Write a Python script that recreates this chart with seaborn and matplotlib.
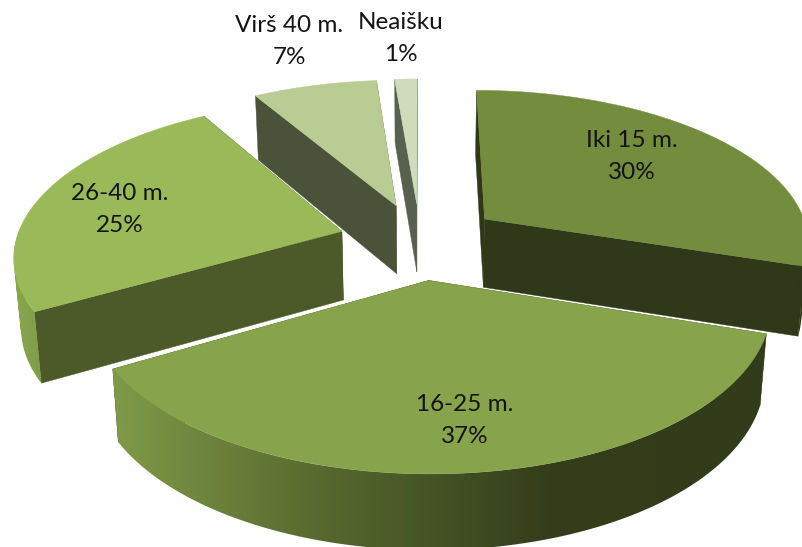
import numpy as np
import matplotlib
matplotlib.use("Agg")
import matplotlib.pyplot as plt
from matplotlib.patches import Polygon
from matplotlib.path import Path
import seaborn as sns

categories = ["Iki 15 m.", "16-25 m.", "26-40 m.", "Virš 40 m.", "Neaišku"]
shares = [30.0, 36.7, 24.8, 7.2, 1.3]

top_colors = ["#748c3d", "#87a44c", "#9aba59", "#b9cc93", "#cfdbbb"]
cut_colors = ["#2f3819", "#3a461f", "#4c5a29", "#4b523a", "#586050"]
rim_ramps = [["#2f3819", "#2f3819"],
             ["#7f9a48", "#55672e", "#343e1b", "#323c1a"],
             ["#8aa84f", "#7f9b47"],
             ["#4b523a", "#4b523a"],
             ["#586050", "#586050"]]
label_xy = [(632, 147), (465, 411), (120, 200), (289, 32), (401, 29)]
LINE_STEP = 32
draw_order = [4, 3, 0, 2, 1]

# projection of the tilted pie plane onto the page (pixels)
CX, CY = 420, 241
RX, RY, PERSP = 326, 153, 0.144
EXPLODE = 0.25
DEPTH = 69
BOTTOM_SCALE = 0.982


def project(px, py):
    s = 1 / (1 + PERSP * py)
    return CX + RX * px * s, CY - RY * py * s, s


def top_point(theta, r, mid):
    px = r * np.sin(theta) + EXPLODE * np.sin(mid)
    py = r * np.cos(theta) + EXPLODE * np.cos(mid)
    return project(px, py)


def lower(x, y, s):
    return CX + BOTTOM_SCALE * (x - CX), y + DEPTH * np.sqrt(s)


def quad_path(q):
    q = np.array(q)
    area = np.sum(q[:, 0] * np.roll(q[:, 1], -1) - np.roll(q[:, 0], -1) * q[:, 1])
    if area < 0:
        q = q[::-1]
    return Path(np.vstack([q, q[0]]), closed=True)


sns.set_theme(style="white")
fig = plt.figure(figsize=(8.02, 5.47), dpi=100, facecolor="white")
ax = fig.add_axes([0, 0, 1, 1])
ax.axis("off")

edges = np.radians(np.concatenate([[0], np.cumsum(shares)]) / np.sum(shares) * 360)

for z, i in enumerate(draw_order):
    a0, a1 = edges[i], edges[i + 1]
    mid = (a0 + a1) / 2
    thetas = np.linspace(a0, a1, 160)
    ax_, ay_, as_ = top_point(mid, 0, mid)
    axb, ayb = lower(ax_, ay_, as_)
    arc = [top_point(t, 1, mid) for t in thetas]

    # cut faces
    for end in (arc[0], arc[-1]):
        bx, by = lower(*end)
        ax.add_patch(Polygon([(ax_, ay_), end[:2], (bx, by), (axb, ayb)],
                             closed=True, facecolor=cut_colors[i],
                             edgecolor=cut_colors[i], lw=0.3, zorder=z * 3 + 1))

    # outer rim, front-facing part only, shaded left to right on the page
    front = [p for t, p in zip(thetas, arc) if np.cos(t) <= 0.03]
    if len(front) > 1:
        quads = [[p[:2], q[:2], lower(*q), lower(*p)] for p, q in zip(front[:-1], front[1:])]
        rim_path = Path.make_compound_path(*[quad_path(q) for q in quads])
        xs = rim_path.vertices[:, 0]
        ys = rim_path.vertices[:, 1]
        cmap = sns.blend_palette(rim_ramps[i], as_cmap=True)
        im = ax.imshow(np.linspace(0, 1, 512)[None, :], cmap=cmap, aspect="auto",
                       extent=(xs.min(), xs.max(), ys.max(), ys.min()), zorder=z * 3 + 2)
        im.set_clip_path(rim_path, transform=ax.transData)

    # top face
    outline = [(ax_, ay_)] + [p[:2] for p in arc]
    ax.add_patch(Polygon(outline, closed=True, facecolor=top_colors[i],
                         edgecolor=top_colors[i], lw=0.3, zorder=z * 3 + 3))

for name, share, (lx, ly) in zip(categories, shares, label_xy):
    for k, line in enumerate((name, f"{share:.0f}%")):
        ax.text(lx, ly + k * LINE_STEP, line, ha="center", va="baseline",
                family="Lato", fontsize=17.5, color="#141414", zorder=50)

ax.set_xlim(0, 802)
ax.set_ylim(547, 0)
fig.savefig("out.png", dpi=100)
